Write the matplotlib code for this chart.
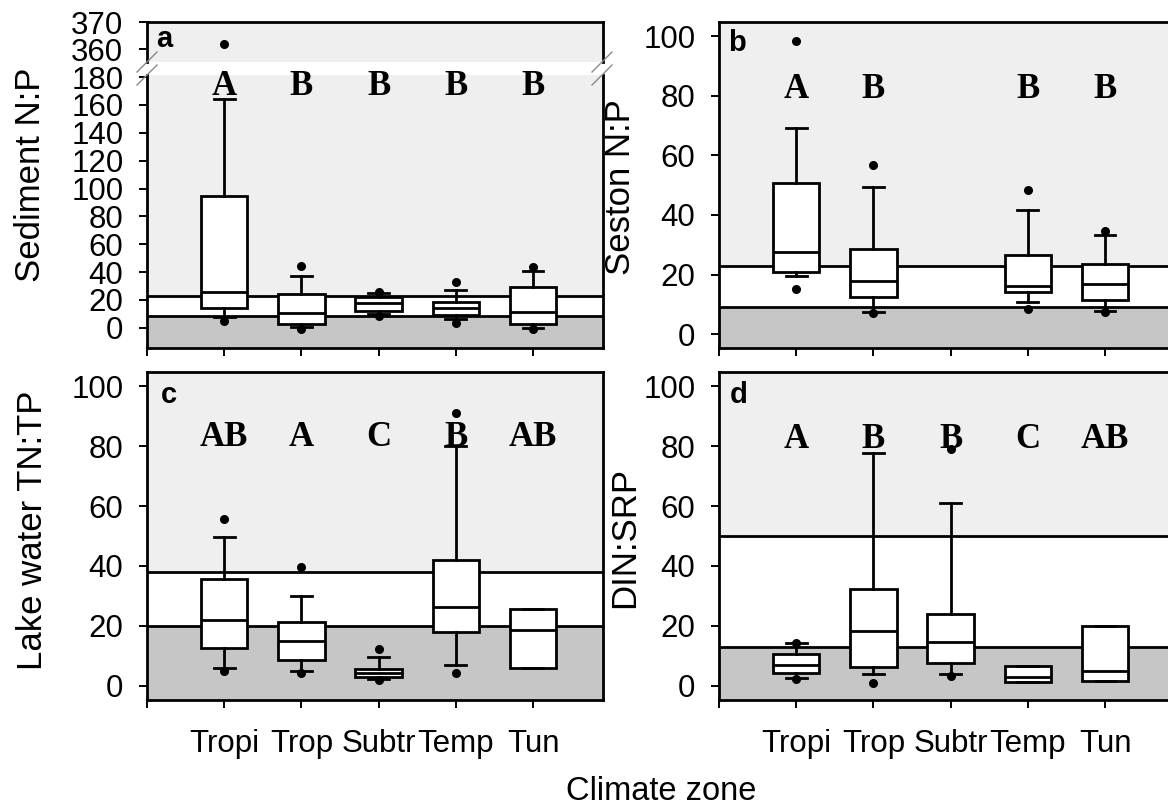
import matplotlib
matplotlib.use("Agg")
from matplotlib import pyplot as plt
from matplotlib.lines import Line2D

zones = ["Tropi", "Trop", "Subtr", "Temp", "Tun"]

# a: sediment N:P (box stats)
sed_q1 = [14.1, 2.5, 11.9, 9.5, 2.8]
sed_med = [25.8, 10.4, 17.8, 14.0, 11.5]
sed_q3 = [94.5, 24.6, 21.8, 18.4, 29.4]
sed_lo = [7.6, 0.3, 10.0, 6.4, -0.2]
sed_hi = [164.6, 37.0, 25.1, 27.5, 40.7]
sed_out = [[5.0, 362.0], [44.5, -0.6], [26.0, 8.2], [33.0, 3.8], [43.9, -1.1]]
sed_lines = (8.5, 22.7)
sed_letters = ["A", "B", "B", "B", "B"]

# b: seston N:P (no Subtr data)
ses_q1 = [20.8, 12.4, None, 14.1, 11.5]
ses_med = [27.5, 17.7, None, 16.3, 16.9]
ses_q3 = [50.6, 28.6, None, 26.6, 23.6]
ses_lo = [19.4, 7.5, None, 10.7, 7.8]
ses_hi = [69.3, 49.3, None, 41.8, 33.3]
ses_out = [[98.3, 15.2], [56.9, 7.0], [], [48.4, 8.4], [34.6, 7.6]]
ses_lines = (9.0, 23.0)
ses_letters = ["A", "B", "", "B", "B"]

# c: lake water TN:TP
tn_q1 = [12.6, 8.7, 3.1, 17.9, 6.1]
tn_med = [21.9, 15.0, 4.4, 26.4, 18.7]
tn_q3 = [35.7, 21.3, 5.8, 41.9, 25.7]
tn_lo = [5.9, 5.0, 2.3, 7.0, 6.1]
tn_hi = [49.8, 30.1, 9.8, 80.1, 25.7]
tn_out = [[55.6, 5.0], [39.6, 4.4], [12.3, 2.0], [91.1, 4.4], []]
tn_lines = (20.0, 38.0)
tn_letters = ["AB", "A", "C", "B", "AB"]

# d: DIN:SRP
din_q1 = [4.4, 6.4, 7.8, 1.2, 1.8]
din_med = [7.0, 18.4, 14.6, 2.9, 5.0]
din_q3 = [10.7, 32.2, 24.0, 6.8, 20.1]
din_lo = [2.6, 4.0, 3.9, 1.2, 1.8]
din_hi = [14.2, 77.8, 60.9, 6.8, 20.1]
din_out = [[14.4, 2.3], [0.9], [79.0, 3.4], [], []]
din_lines = (13.0, 50.0)
din_letters = ["A", "B", "B", "C", "AB"]

LIGHT = "#efefef"
DARK = "#c6c6c6"
SANS = ["Liberation Sans", "DejaVu Sans"]
SERIF = ["Liberation Serif", "DejaVu Serif"]

plt.rcParams["font.family"] = SANS

W, H = 1168, 807
fig = plt.figure(figsize=(W / 100, H / 100), dpi=100)


def rect(left, top, bottom, width=455.5):
    return [left / W, 1 - bottom / H, width / W, (bottom - top) / H]


def make_stats(q1, med, q3, lo, hi, out):
    st, pos = [], []
    for i in range(len(q1)):
        if q1[i] is None:
            continue
        st.append(dict(q1=q1[i], med=med[i], q3=q3[i], whislo=lo[i],
                       whishi=hi[i], fliers=out[i]))
        pos.append(i + 1)
    return st, pos


def draw_boxes(ax, st, pos):
    lw = 2.0
    ax.bxp(st, positions=pos, widths=0.6, capwidths=0.27, patch_artist=True,
           boxprops=dict(facecolor="white", edgecolor="black", linewidth=lw),
           medianprops=dict(color="black", linewidth=lw),
           whiskerprops=dict(color="black", linewidth=lw),
           capprops=dict(color="black", linewidth=lw),
           flierprops=dict(marker="o", markerfacecolor="black",
                           markeredgecolor="black", markersize=5.5),
           zorder=3)


def shade(ax, lines, ymin, ymax):
    lo, hi = lines
    ax.axhspan(ymin, lo, color=DARK, zorder=0, lw=0)
    ax.axhspan(lo, hi, color="white", zorder=0, lw=0)
    ax.axhspan(hi, ymax, color=LIGHT, zorder=0, lw=0)
    ax.axhline(lo, color="black", lw=2.0, zorder=1)
    ax.axhline(hi, color="black", lw=2.0, zorder=1)


def style(ax, xlabels):
    for s in ax.spines.values():
        s.set_linewidth(2.0)
    ax.set_xlim(0, 5.9)
    ax.set_xticks(range(6))
    if xlabels:
        ax.set_xticklabels([""] + zones)
    else:
        ax.set_xticklabels([])
    ax.tick_params(axis="both", direction="out", length=6, width=1.4,
                   labelsize=22.5, colors="black")
    ax.tick_params(axis="y", pad=11)
    ax.tick_params(axis="x", pad=15)


def letters(ax, labs, y):
    for i, t in enumerate(labs):
        if t:
            ax.text(i + 1, y, t, ha="center", va="baseline", fontsize=25,
                    fontweight="bold", family=SERIF, zorder=4)


# ---- panel a (broken axis) ----
ax_top = fig.add_axes(rect(147, 22, 62))
ax_a = fig.add_axes(rect(147, 75, 348))
st, pos = make_stats(sed_q1, sed_med, sed_q3, sed_lo, sed_hi, sed_out)
for ax in (ax_top, ax_a):
    draw_boxes(ax, st, pos)
    style(ax, False)

ax_top.set_facecolor(LIGHT)
ax_top.set_ylim(355.2, 370)
ax_top.set_yticks([360, 370])
ax_top.spines["bottom"].set_visible(False)
ax_top.tick_params(axis="x", length=0)

shade(ax_a, sed_lines, -14.5, 181.5)
ax_a.set_ylim(-14.5, 181.5)
ax_a.set_yticks(range(0, 181, 20))
ax_a.spines["top"].set_visible(False)
letters(ax_a, sed_letters, 167.5)
ax_top.text(0.02, 0.37, "a", transform=ax_top.transAxes, fontsize=21,
            fontweight="bold")

# break marks
for xp in (147, 602):
    for yp in (62, 75):
        fig.add_artist(Line2D([(xp - 10) / W, (xp + 10) / W],
                              [1 - (yp + 10) / H, 1 - (yp - 10) / H],
                              color="#8a8a8a", lw=1.0))

# ---- panel b ----
ax_b = fig.add_axes(rect(719, 22, 348))
st, pos = make_stats(ses_q1, ses_med, ses_q3, ses_lo, ses_hi, ses_out)
shade(ax_b, ses_lines, -4.6, 104.7)
draw_boxes(ax_b, st, pos)
style(ax_b, False)
ax_b.set_ylim(-4.6, 104.7)
ax_b.set_yticks(range(0, 101, 20))
letters(ax_b, ses_letters, 79.3)
ax_b.text(0.02, 0.912, "b", transform=ax_b.transAxes, fontsize=21,
          fontweight="bold")

# ---- panel c ----
ax_c = fig.add_axes(rect(147, 372, 700))
st, pos = make_stats(tn_q1, tn_med, tn_q3, tn_lo, tn_hi, tn_out)
shade(ax_c, tn_lines, -4.7, 104.7)
draw_boxes(ax_c, st, pos)
style(ax_c, True)
ax_c.set_ylim(-4.7, 104.7)
ax_c.set_yticks(range(0, 101, 20))
letters(ax_c, tn_letters, 80.0)
ax_c.text(0.03, 0.905, "c", transform=ax_c.transAxes, fontsize=21,
          fontweight="bold")

# ---- panel d ----
ax_d = fig.add_axes(rect(719, 372, 700))
st, pos = make_stats(din_q1, din_med, din_q3, din_lo, din_hi, din_out)
shade(ax_d, din_lines, -4.7, 104.7)
draw_boxes(ax_d, st, pos)
style(ax_d, True)
ax_d.set_ylim(-4.7, 104.7)
ax_d.set_yticks(range(0, 101, 20))
letters(ax_d, din_letters, 79.3)
ax_d.text(0.024, 0.905, "d", transform=ax_d.transAxes, fontsize=21,
          fontweight="bold")

# axis titles
fig.text(31 / W, 1 - 175 / H, "Sediment N:P", rotation=90, ha="center",
         va="center", fontsize=25)
fig.text(621 / W, 1 - 187 / H, "Seston N:P", rotation=90, ha="center",
         va="center", fontsize=25)
fig.text(33 / W, 1 - 530 / H, "Lake water TN:TP", rotation=90, ha="center",
         va="center", fontsize=25)
fig.text(625 / W, 1 - 537 / H, "DIN:SRP", rotation=90, ha="center",
         va="center", fontsize=25)
fig.text(661 / W, 1 - 800 / H, "Climate zone", ha="center", va="baseline",
         fontsize=23.5)

fig.savefig("out.png", dpi=100)
